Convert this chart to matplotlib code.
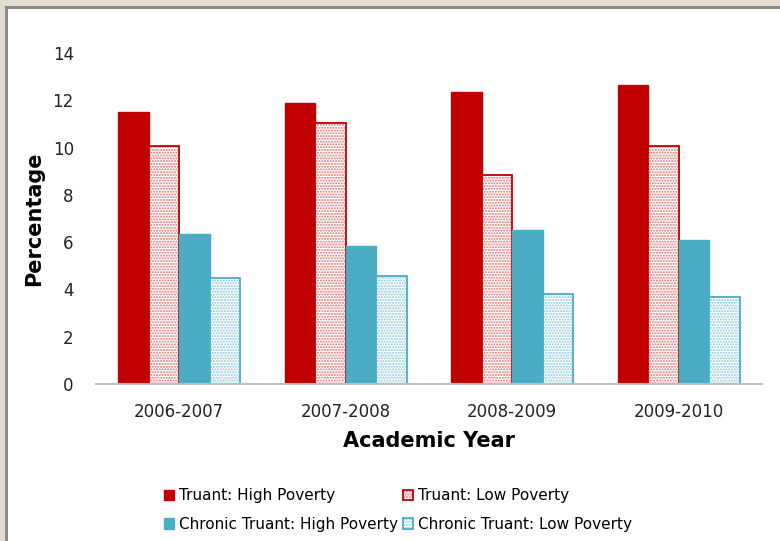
import matplotlib.pyplot as plt
from matplotlib.patches import Rectangle
import numpy as np

years = ['2006-2007', '2007-2008', '2008-2009', '2009-2010']
truant_high = [11.5, 11.9, 12.35, 12.65]
truant_low = [10.05, 11.05, 8.85, 10.05]
chronic_high = [6.35, 5.82, 6.5, 6.08]
chronic_low = [4.5, 4.58, 3.8, 3.7]
yticks = [0, 2, 4, 6, 8, 10, 12, 14]

RED = '#c00000'
BLUE = '#4bacc6'
RED_DOT = '#e07070'
BLUE_DOT = '#86c8da'

plt.rcParams['font.family'] = ['DejaVu Sans']
plt.rcParams['hatch.linewidth'] = 1.0

fig = plt.figure(figsize=(7.8, 5.41), dpi=100)
fig.patch.set_facecolor('white')

# window frame (beige band + dark line) on top and left
W, H = 780, 541
fig.patches.append(Rectangle((0, 1 - 6 / H), 1, 6 / H, transform=fig.transFigure,
                             facecolor='#e0dcd0', edgecolor='none', zorder=0))
fig.patches.append(Rectangle((0, 0), 5 / W, 1, transform=fig.transFigure,
                             facecolor='#e0dcd0', edgecolor='none', zorder=0))
fig.patches.append(Rectangle((5 / W, 1 - 9 / H), 1, 3 / H, transform=fig.transFigure,
                             facecolor='#8c8a80', edgecolor='none', zorder=0))
fig.patches.append(Rectangle((5 / W, 0), 3 / W, 1 - 6 / H, transform=fig.transFigure,
                             facecolor='#8c8a80', edgecolor='none', zorder=0))

ax = fig.add_axes([96 / W, 1 - 384 / H, (762 - 96) / W, (384 - 53) / H])

x = np.arange(len(years))
bw = 0.183
labels = ['Truant: High Poverty', 'Truant: Low Poverty',
          'Chronic Truant: High Poverty', 'Chronic Truant: Low Poverty']

h0 = ax.bar(x - 1.5 * bw, truant_high, bw, color=RED, edgecolor=RED, linewidth=1.0)
d1 = ax.bar(x - 0.5 * bw, truant_low, bw, facecolor='white', edgecolor=RED_DOT,
            hatch='......', linewidth=0)
o1 = ax.bar(x - 0.5 * bw, truant_low, bw, fill=False, edgecolor=RED, linewidth=1.3)
h2 = ax.bar(x + 0.5 * bw, chronic_high, bw, color=BLUE, edgecolor=BLUE, linewidth=1.0)
d3 = ax.bar(x + 1.5 * bw, chronic_low, bw, facecolor='white', edgecolor=BLUE_DOT,
            hatch='......', linewidth=0)
o3 = ax.bar(x + 1.5 * bw, chronic_low, bw, fill=False, edgecolor=BLUE, linewidth=1.3)

ax.set_xlim(-0.5, 3.5)
ax.set_ylim(0, 14)
ax.set_yticks(yticks)
ax.set_xticks(x)
ax.set_xticklabels(years)
ax.tick_params(axis='both', length=0, labelsize=12, colors='#222222')
ax.tick_params(axis='y', pad=16)
ax.tick_params(axis='x', pad=14)
for s in ['top', 'right', 'left']:
    ax.spines[s].set_visible(False)
ax.spines['bottom'].set_color('#bfbfbf')
ax.spines['bottom'].set_linewidth(1.5)

ax.set_xlabel('Academic Year', fontsize=15, fontweight='bold', labelpad=7)
ax.set_ylabel('Percentage', fontsize=15, fontweight='bold', labelpad=6)

handles = [h0, (d1, o1), h2, (d3, o3)]
order = [0, 2, 1, 3]
fig.legend([handles[i] for i in order], [labels[i] for i in order],
           ncol=2, loc='center', bbox_to_anchor=(0.51, 0.057),
           frameon=False, fontsize=11, handlelength=0.7, handleheight=0.7,
           handletextpad=0.3, columnspacing=0.3, labelspacing=0.9)

fig.savefig('out.png', dpi=100)
